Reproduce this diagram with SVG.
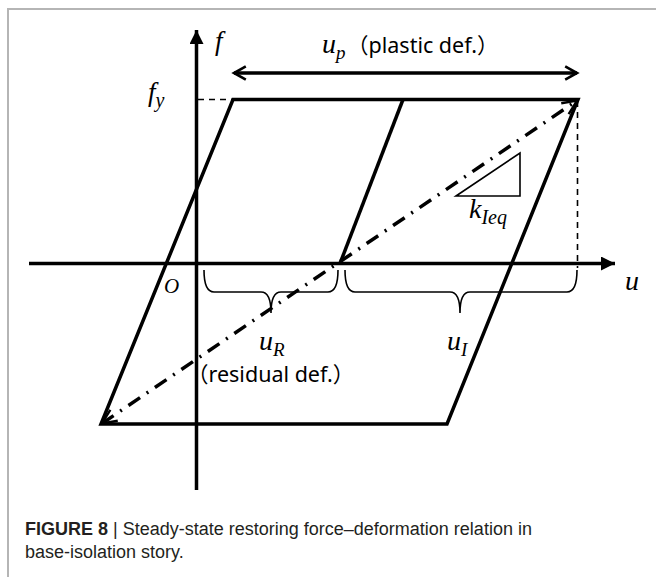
<svg xmlns="http://www.w3.org/2000/svg" width="656" height="577" viewBox="0 0 656 577">
<style>
.ax{stroke:#000;stroke-width:3.5;fill:none}
.thin{stroke:#000;stroke-width:1.6;fill:none}
.dash{stroke:#000;stroke-width:1.6;fill:none;stroke-dasharray:6 5}
.dd{stroke:#000;stroke-width:3.5;fill:none;stroke-dasharray:14 8 2 8}
.m{font-family:"Liberation Serif","DejaVu Serif",serif;font-style:italic;fill:#000}
.t{font-family:"Noto Sans","Noto Sans CJK JP",sans-serif;fill:#000}
.cap{font-family:"Liberation Sans",Arial,sans-serif;fill:#231f20;font-size:18px}
</style>
<defs>
<marker id="tri" viewBox="0 0 10 10" refX="10" refY="5" markerWidth="4" markerHeight="4" markerUnits="strokeWidth" orient="auto"><path d="M0,0 L10,5 L0,10 z" fill="#000"/></marker>
<marker id="chev" viewBox="0 0 12 12" refX="10" refY="6" markerWidth="4.5" markerHeight="4.5" markerUnits="strokeWidth" orient="auto-start-reverse"><path d="M1,1 L10,6 L1,11" fill="none" stroke="#000" stroke-width="2"/></marker>
<marker id="vee" viewBox="0 0 12 12" refX="11" refY="6" markerWidth="5" markerHeight="5" markerUnits="strokeWidth" orient="auto-start-reverse"><path d="M1,1.5 L11,6 L1,10.5" fill="none" stroke="#000" stroke-width="1.6"/></marker>
</defs>
<path d="M8,577 V9 H656" fill="none" stroke="#b5b5b5" stroke-width="2"/>
<g id="connectors">
<line id="f-axis" class="ax" x1="196.5" y1="490" x2="196.5" y2="30" marker-end="url(#tri)"/>
<line id="u-axis" class="ax" x1="29" y1="263.5" x2="615" y2="263.5" marker-end="url(#tri)"/>
<line id="fy-dash" class="dash" x1="198" y1="99.5" x2="233" y2="99.5"/>
<line id="ui-dash" class="dash" x1="577.5" y1="101" x2="577.5" y2="268"/>
<line id="up-arrow" class="ax" x1="234" y1="73" x2="577" y2="73" marker-start="url(#chev)" marker-end="url(#chev)"/>
<line id="keq-line" class="dd" x1="102" y1="423.5" x2="577" y2="100.5" marker-start="url(#vee)" marker-end="url(#vee)"/>
</g>
<g id="loop">
<path class="ax" d="M233,99.5 H578 L447,424 H101 Z"/>
<line class="ax" x1="403" y1="99.5" x2="340" y2="263.5"/>
</g>
<g id="slope-triangle">
<path class="thin" d="M456,196 L520,153 L520,196 Z" stroke-width="2"/>
</g>
<g id="braces">
<path class="thin" d="M204,270 Q204,292 214,292 H261 Q271,292 271,313 Q271,292 281,292 H328 Q338,292 338,270"/>
<path class="thin" d="M345,270 Q345,292 355,292 H450 Q460,292 460,313 Q460,292 470,292 H567 Q577,292 577,270"/>
</g>
<g id="labels">
<text class="m" x="215" y="50" font-size="27">f</text>
<text class="m" x="148" y="101" font-size="27">f<tspan font-size="20" dy="6">y</tspan></text>
<text class="m" x="322" y="53" font-size="28">u<tspan font-size="19" dy="6">p</tspan></text>
<text class="t" x="347" y="53" font-size="21.5">（plastic def.）</text>
<text class="m" x="164" y="293" font-size="21">O</text>
<text class="m" x="625" y="290" font-size="28">u</text>
<text class="m" x="469" y="218" font-size="28">k<tspan font-size="20" dy="6">Ieq</tspan></text>
<text class="m" x="259" y="350" font-size="28">u<tspan font-size="19" dy="6">R</tspan></text>
<text class="m" x="447" y="350" font-size="28">u<tspan font-size="19" dy="6">I</tspan></text>
<text class="t" x="187" y="382" font-size="21.5">（residual def.）</text>
</g>
<g id="caption">
<text class="cap" x="25" y="535"><tspan font-weight="bold">FIGURE 8</tspan> | Steady-state restoring force–deformation relation in</text>
<text class="cap" x="25" y="558">base-isolation story.</text>
</g>
</svg>
